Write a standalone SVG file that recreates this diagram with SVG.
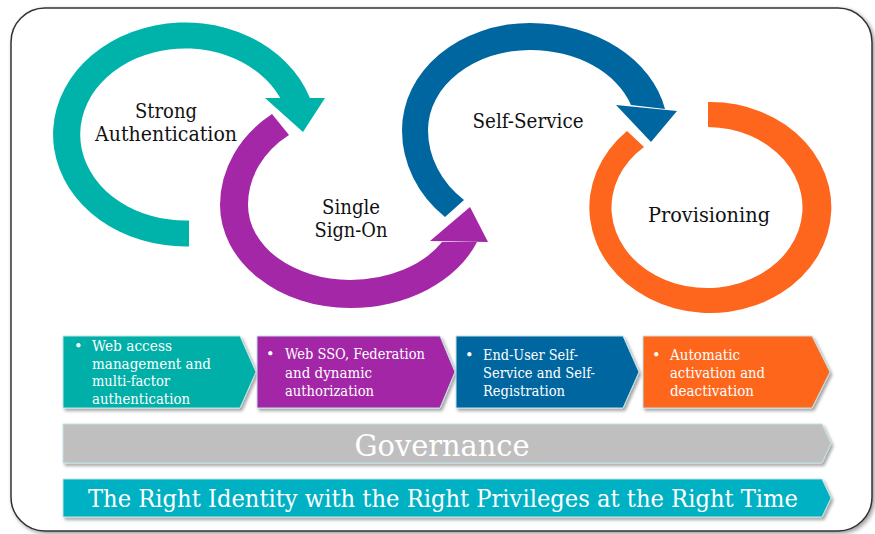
<svg xmlns="http://www.w3.org/2000/svg" width="875" height="534" viewBox="0 0 875 534">
<defs>
<filter id="sh" x="-5%" y="-10%" width="115%" height="130%">
<feDropShadow dx="2" dy="2.5" stdDeviation="1.5" flood-color="#000" flood-opacity="0.35"/>
</filter>
<filter id="fsh" x="-5%" y="-5%" width="110%" height="110%">
<feDropShadow dx="2" dy="2" stdDeviation="2" flood-color="#000" flood-opacity="0.4"/>
</filter>
</defs>
<style>
.lbl{font-family:"DejaVu Serif","Liberation Serif",serif;font-size:20px;fill:#111;text-anchor:middle}
.ct{font-family:"DejaVu Serif","Liberation Serif",serif;font-size:14.5px;fill:#fff}
.chev{stroke:#bfe3e4;stroke-width:1;filter:url(#sh)}
.bar{stroke:#bfe3e4;stroke-width:1;filter:url(#sh)}
.big{font-family:"DejaVu Serif","Liberation Serif",serif;fill:#fff;text-anchor:middle}
</style>
<rect x="11" y="8" width="861" height="523" rx="34" ry="34" fill="#fff" stroke="#333" stroke-width="1.5" filter="url(#fsh)"/>

<g id="connectors">
<g id="arc-strong" fill="#00b3aa">
<path d="M 189 246.4 A 132 112 0 1 1 309.9 98 L 280.3 98 A 105 86 0 1 0 189 220.4 Z"/>
<polygon points="265,98 325,98 303,132"/>
</g>
<g id="arc-sso" fill="#a327a7">
<path d="M 272 114 A 130 114 0 0 0 220 205 A 130 103 0 0 0 350 308 A 136 103 0 0 0 477 242 L 442 242 A 106 75 0 0 1 350 280 A 102 75 0 0 1 248 205 A 102 87 0 0 1 289 135 Z"/>
<polygon points="430,241 470,207 488,242"/>
</g>
<g id="arc-self" fill="#0066a0">
<path d="M 445 217 A 128 116 0 0 1 402 130 A 128 107 0 0 1 530 23 A 138 107 0 0 1 665 109 L 631 105 A 106 80 0 0 0 530 50 A 102 80 0 0 0 428 130 A 102 92 0 0 0 464 200 Z"/>
<polygon points="616,105 677,111 651,142"/>
</g>
<g id="arc-prov" fill="#fe661d">
<path d="M 708 102 A 121 105.5 0 1 1 627 131 L 644 147 A 95.5 80.5 0 1 0 708 127 Z"/>
</g>
</g>

<g id="node-strong">
<text class="lbl" x="166" y="118" textLength="62" lengthAdjust="spacingAndGlyphs">Strong</text>
<text class="lbl" x="166" y="141" textLength="142" lengthAdjust="spacingAndGlyphs">Authentication</text>
</g>
<g id="node-sso">
<text class="lbl" x="351" y="214" textLength="58" lengthAdjust="spacingAndGlyphs">Single</text>
<text class="lbl" x="351" y="237" textLength="73" lengthAdjust="spacingAndGlyphs">Sign-On</text>
</g>
<g id="node-self">
<text class="lbl" x="528" y="128" textLength="111" lengthAdjust="spacingAndGlyphs">Self-Service</text>
</g>
<g id="node-prov">
<text class="lbl" x="709" y="222" textLength="122" lengthAdjust="spacingAndGlyphs">Provisioning</text>
</g>

<g id="chev-1">
<polygon class="chev" fill="#00b0a8" points="63,336 240,336 256,372 240,408 63,408"/>
<text class="ct" x="74" y="351">•</text>
<text class="ct" x="92" y="351" textLength="80" lengthAdjust="spacingAndGlyphs">Web access</text>
<text class="ct" x="92" y="369" textLength="119" lengthAdjust="spacingAndGlyphs">management and</text>
<text class="ct" x="92" y="386" textLength="78" lengthAdjust="spacingAndGlyphs">multi-factor</text>
<text class="ct" x="92" y="404" textLength="98" lengthAdjust="spacingAndGlyphs">authentication</text>
</g>
<g id="chev-2">
<polygon class="chev" fill="#a326a6" points="257,336 440,336 455,372 440,408 257,408"/>
<text class="ct" x="266" y="359">•</text>
<text class="ct" x="285" y="359" textLength="140" lengthAdjust="spacingAndGlyphs">Web SSO, Federation</text>
<text class="ct" x="285" y="378" textLength="87" lengthAdjust="spacingAndGlyphs">and dynamic</text>
<text class="ct" x="285" y="396" textLength="89" lengthAdjust="spacingAndGlyphs">authorization</text>
</g>
<g id="chev-3">
<polygon class="chev" fill="#0066a0" points="456,336 623,336 639,372 623,408 456,408"/>
<text class="ct" x="465" y="360">•</text>
<text class="ct" x="483" y="360" textLength="95" lengthAdjust="spacingAndGlyphs">End-User Self-</text>
<text class="ct" x="483" y="378" textLength="112" lengthAdjust="spacingAndGlyphs">Service and Self-</text>
<text class="ct" x="483" y="396" textLength="82" lengthAdjust="spacingAndGlyphs">Registration</text>
</g>
<g id="chev-4">
<polygon class="chev" fill="#fe661d" points="643,336 812,336 830,372 812,408 643,408"/>
<text class="ct" x="652" y="360">•</text>
<text class="ct" x="670" y="360" textLength="70" lengthAdjust="spacingAndGlyphs">Automatic</text>
<text class="ct" x="670" y="378" textLength="95" lengthAdjust="spacingAndGlyphs">activation and</text>
<text class="ct" x="670" y="396" textLength="84" lengthAdjust="spacingAndGlyphs">deactivation</text>
</g>

<g id="governance">
<polygon class="bar" fill="#bfbfbf" points="63,424 822,424 831,443.5 822,463 63,463"/>
<text class="big" x="442" y="456" font-size="30" textLength="175" lengthAdjust="spacingAndGlyphs">Governance</text>
</g>
<g id="tagline">
<polygon class="bar" fill="#00b1c3" points="63,479 822,479 831,498 822,517 63,517"/>
<text class="big" x="443" y="507" font-size="25" textLength="710" lengthAdjust="spacingAndGlyphs">The Right Identity with the Right Privileges at the Right Time</text>
</g>
</svg>
